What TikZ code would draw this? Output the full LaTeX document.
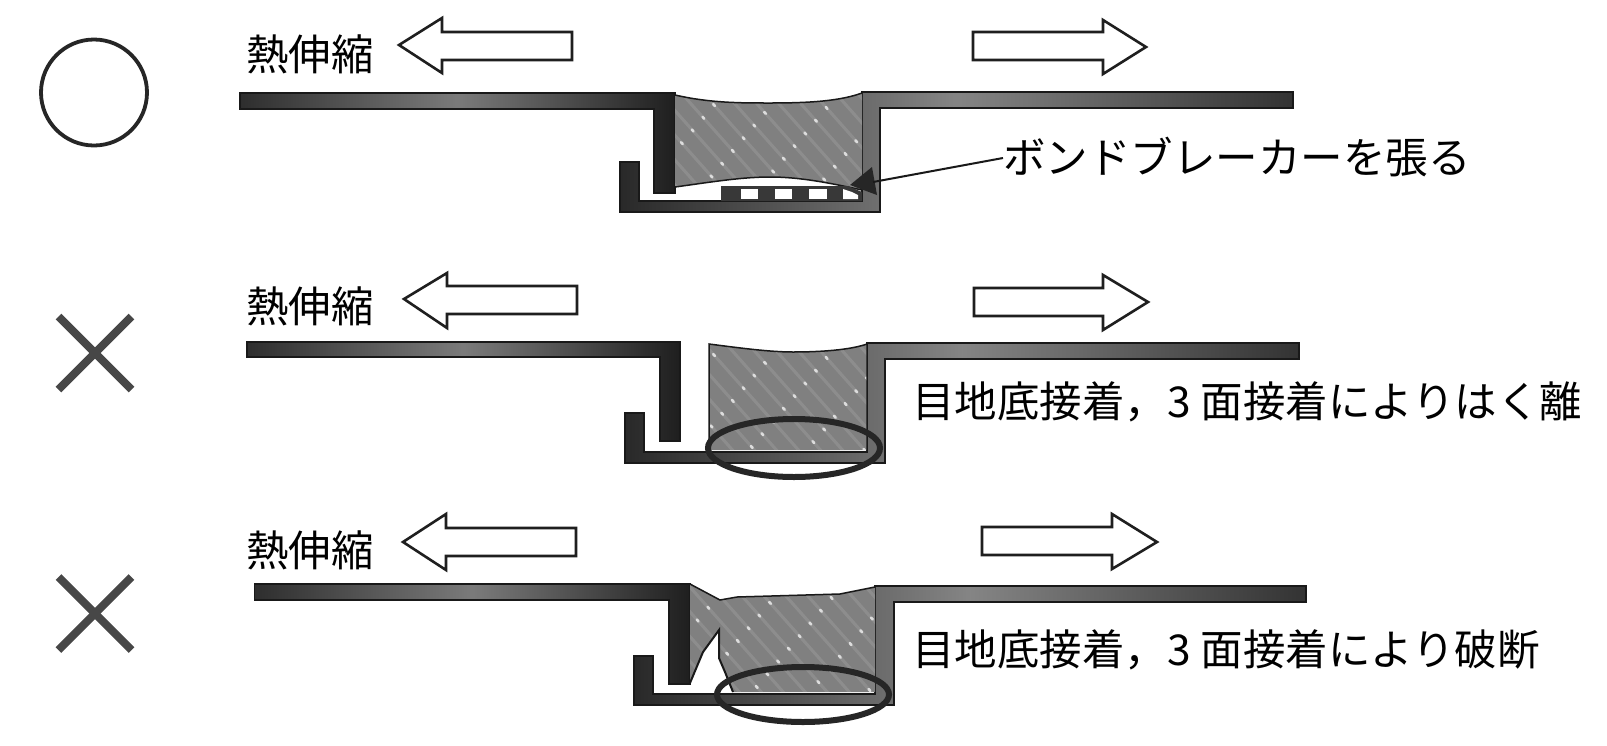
\documentclass[tikz,border=0pt]{standalone}
\usepackage{fontspec}
\setmainfont{Noto Sans CJK JP}
\tikzset{
  metalleft/.style={draw=black!90,line width=1.4pt,left color=black!82,right color=black!88,middle color=black!52,line join=miter},
  metalright/.style={draw=black!90,line width=1.4pt,left color=black!84,right color=black!80,middle color=black!48,line join=miter},
  edge/.style={draw=black!90,line width=1.5pt},
  sealfill/.style={fill=black!50},
  streak/.style={draw=black!25,line width=3pt,opacity=.22},
  spark/.style={draw=white,line width=2.6pt,opacity=.7,line cap=round},
  movearrow/.style={draw=black!88,line width=2.6pt,fill=white,line join=miter},
  ringmark/.style={draw=black!85,line width=3.8pt},
  crossmark/.style={draw=black!72,line width=8pt},
  lens/.style={draw=black!85,line width=6pt},
  label/.style={inner sep=0pt,anchor=west,text height=36pt,text depth=6pt,font=\fontsize{42.5}{42.5}\selectfont},
  tapehole/.style={fill=white,draw=none},
  leader/.style={draw=black!90,line width=2pt}
}
\newcommand{\sealhatch}{%
  \foreach \k in {0,...,24}{
    \draw[streak] (520+\k*22,60) -- ++(240,270);
    \draw[spark,dash pattern=on 2.5pt off 42pt,dash phase=\k*17pt] (520+\k*22,60) -- ++(240,270);
  }
}
\begin{document}
\begin{tikzpicture}[x=1pt,y=-1pt]
\useasboundingbox (0,0) rectangle (1607,745);
\fill[white] (0,0) rectangle (1607,745);

% Marks
\draw[ringmark] (94,92.5) circle[radius=53];
\draw[crossmark] (58.5,316.5) -- (131.5,389.5);
\draw[crossmark] (131.5,316.5) -- (58.5,389.5);
\draw[crossmark] (58.5,577) -- (131.5,650);
\draw[crossmark] (131.5,577) -- (58.5,650);

% Row 1
\node[label] (heat1) at (246,55) {熱伸縮};
\draw[movearrow] (399,45) -- (442,18) -- (442,32) -- (572,32) -- (572,60) -- (442,60) -- (442,73) -- cycle;
\draw[movearrow] (1146,47) -- (1103,20) -- (1103,32) -- (973,32) -- (973,60) -- (1103,60) -- (1103,74) -- cycle;
\path[metalleft] (240,93) -- (675,93) -- (675,193) -- (654,193) -- (654,109) -- (240,109) -- cycle;
\path[metalright] (1293,92) -- (862,92) -- (862,201) -- (639,201) -- (639,162) -- (620,162) -- (620,212) -- (880,212) -- (880,108) -- (1293,108) -- cycle;
\begin{scope}
  \clip (675,95) .. controls (710,103) and (740,103) .. (770,103) .. controls (810,103) and (840,101) .. (862,93) -- (862,190) .. controls (830,183) and (800,177) .. (770,177) .. controls (740,177) and (705,183) .. (675,187) -- cycle;
  \fill[sealfill] (660,85) rectangle (870,195);
  \sealhatch
\end{scope}
\draw[edge] (675,95) .. controls (710,103) and (740,103) .. (770,103) .. controls (810,103) and (840,101) .. (862,93);
\draw[edge] (862,190) .. controls (830,183) and (800,177) .. (770,177) .. controls (740,177) and (705,183) .. (675,187);
\fill[black!78] (721,186) -- (848,186) -- (862,192) -- (862,201) -- (721,201) -- cycle;
\fill[tapehole] (741,189) rectangle (758,199);
\fill[tapehole] (775,189) rectangle (792,199);
\fill[tapehole] (809,189) rectangle (827,199);
\fill[tapehole] (843,189) -- (852,192) -- (858,195) -- (858,199) -- (843,199) -- cycle;
\fill[black!85] (850,185) -- (872,167) -- (877,195) -- cycle;
\coordinate (tapetip) at (873,182);
\node[label] (bond) at (1003,158) {ボンドブレーカーを張る};
\draw[leader] (tapetip) -- (bond.west);

% Row 2
\node[label] (heat2) at (246,307) {熱伸縮};
\draw[movearrow] (404,299) -- (447,273) -- (447,286) -- (577,286) -- (577,314) -- (447,314) -- (447,328) -- cycle;
\draw[movearrow] (1148,302) -- (1103,275) -- (1103,288) -- (974,288) -- (974,316) -- (1103,316) -- (1103,330) -- cycle;
\path[metalleft] (247,342) -- (680,342) -- (680,441) -- (660,441) -- (660,357) -- (247,357) -- cycle;
\path[metalright] (1299,343) -- (867,343) -- (867,452) -- (644,452) -- (644,413) -- (625,413) -- (625,463) -- (885,463) -- (885,359) -- (1299,359) -- cycle;
\begin{scope}
  \clip (709,344) .. controls (740,348) and (770,352) .. (793,352) .. controls (820,352) and (850,350) .. (867,344) -- (867,450) -- (709,450) -- cycle;
  \fill[sealfill] (700,335) rectangle (870,455);
  \begin{scope}[yshift=-250pt]\sealhatch\end{scope}
\end{scope}
\draw[edge] (709,450) -- (709,344) .. controls (740,348) and (770,352) .. (793,352) .. controls (820,352) and (850,350) .. (867,344) -- (867,450);
\draw[lens] (794,448) ellipse[x radius=86,y radius=29];
\node[label] (fail1) at (912,402) {目地底接着，3\hspace{10pt}面接着によりはく離};

% Row 3
\node[label] (heat3) at (246,551) {熱伸縮};
\draw[movearrow] (403,542) -- (446,514) -- (446,528) -- (576,528) -- (576,556) -- (446,556) -- (446,570) -- cycle;
\draw[movearrow] (1157,542) -- (1112,514) -- (1112,527) -- (982,527) -- (982,555) -- (1112,555) -- (1112,569) -- cycle;
\path[metalleft] (254.5,584) -- (690,584) -- (690,684) -- (669,684) -- (669,600) -- (254.5,600) -- cycle;
\path[metalright] (1306,586) -- (875,586) -- (875,694) -- (653,694) -- (653,656) -- (634,656) -- (634,705) -- (894,705) -- (894,602) -- (1306,602) -- cycle;
\begin{scope}
  \clip (690,584) -- (720,600) -- (737,597) -- (840,594) -- (875,587) -- (875,692) -- (733,692) -- (725,672) -- (719,658) -- (719,630) -- (703,652) -- (690,683) -- cycle;
  \fill[sealfill] (680,575) rectangle (880,700);
  \begin{scope}[yshift=-490pt,xshift=5pt]\sealhatch\end{scope}
\end{scope}
\draw[edge] (690,584) -- (720,600) -- (737,597) -- (840,594) -- (875,587);
\draw[edge,line width=2pt] (690,683) -- (703,652) -- (719,630) -- (719,658) -- (725,672) -- (733,692);
\draw[lens] (803,694.5) ellipse[x radius=86,y radius=27.5];
\node[label] (fail2) at (912,650) {目地底接着，3\hspace{10pt}面接着により破断};
\end{tikzpicture}
\end{document}
